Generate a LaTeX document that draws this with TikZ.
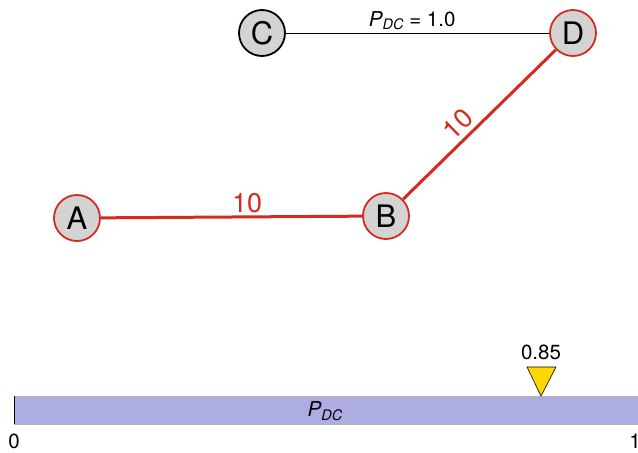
\documentclass[tikz,border=0pt]{standalone}
\usepackage{fontspec}
\setmainfont{TeX Gyre Heros}
\definecolor{nodered}{HTML}{D52B1E}
\definecolor{nodegray}{HTML}{D3D3D3}
\definecolor{barblue}{HTML}{ADADE2}
\definecolor{markyellow}{HTML}{FFD700}
\newcommand{\pdc}[1][]{{\itshape P}\raisebox{-0.35ex}{{#1\itshape DC}}}
\begin{document}
\begin{tikzpicture}[x=1pt,y=-1pt,
  vert/.style={circle, minimum size=46pt, inner sep=0pt, fill=nodegray, line width=1.8pt, font=\fontsize{31}{31}\selectfont},
  redvert/.style={vert, draw=nodered},
  blackvert/.style={vert, draw=black},
  rededge/.style={draw=nodered, line width=3pt},
  redlabel/.style={text=nodered, font=\fontsize{27}{27}\selectfont, inner sep=1pt},
  smalltext/.style={font=\fontsize{20.5}{20.5}\selectfont}]
\useasboundingbox (0,0) rectangle (638,453);
% graph
\node[redvert] (A) at (77,218) {A};
\node[redvert] (B) at (386,216) {B};
\node[blackvert] (C) at (262,33) {C};
\node[redvert] (D) at (573,33) {D};
\draw[rededge] (A) -- node[pos=0.56, above=1pt, redlabel] {10} (B);
\draw[rededge] (B) -- node[pos=0.43, sloped, above=3pt, redlabel] {10} (D);
\draw[black, line width=1pt] (C) -- node[pos=0.48, above=-1pt, smalltext] {\pdc[\fontsize{14.5}{14.5}\selectfont] = 1.0} (D);
% bar
\fill[barblue] (14,396) rectangle (640,424);
\draw[gray!60, line width=0.8pt] (14,396) -- (640,396);
\draw[gray!60, line width=0.8pt] (14,424) -- (640,424);
\draw[black, line width=1pt] (14,396) -- (14,424);
\node[smalltext] (barlabel) at (325,411) {\pdc[\fontsize{14.5}{14.5}\selectfont]};
\node[smalltext] (zero) at (14,441) {0};
\node[smalltext] (one) at (635,441) {1};
% marker
\coordinate (tip) at (541,396);
\draw[black, line width=0.6pt, fill=markyellow] (527,367) -- (556,367) -- (tip) -- cycle;
\node[smalltext] (mark) at (541,352) {0.85};
\end{tikzpicture}
\end{document}
